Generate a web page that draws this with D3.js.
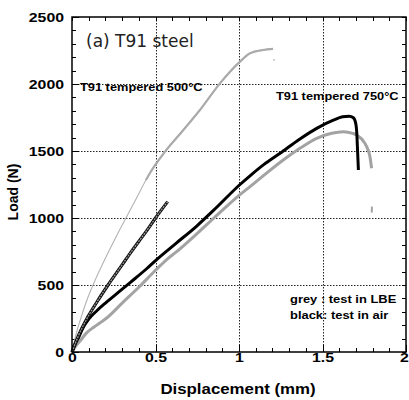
<!DOCTYPE html>
<html lang="en">
<head>
    <meta charset="UTF-8">
    <title>T91 steel load-displacement</title>
    <script src="https://d3js.org/d3.v7.min.js"></script>
    <style>
        body { margin: 0; background: #fff; }
        svg text { font-family: "Liberation Sans", Arial, sans-serif; font-weight: bold; fill: #000; }
        .ax path { display: none; }
        .ax line { stroke: #000; stroke-width: 1; shape-rendering: crispEdges; }
    </style>
</head>
<body>
    <svg id="chart"></svg>
    <script>
        // curves (displacement in mm, load in N)
        const dispGrey500 = [0, 0.026, 0.056, 0.09, 0.126, 0.2, 0.285, 0.366, 0.443, 0.467, 0.557, 0.667, 0.766, 0.886, 1.006, 1.066, 1.144, 1.204];
        const loadGrey500 = [0, 140, 264, 390, 500, 700, 911, 1100, 1284, 1336, 1495, 1657, 1806, 2005, 2167, 2229, 2254, 2262];

        const dispBlack500 = [0, 0.036, 0.096, 0.15, 0.216, 0.3, 0.35, 0.4, 0.45, 0.5, 0.573];
        const loadBlack500 = [0, 114, 264, 375, 500, 650, 740, 825, 910, 1000, 1122];

        const dispBlack750 = [0, 0.02, 0.04, 0.07, 0.1, 0.15, 0.2, 0.263, 0.35, 0.45, 0.507, 0.623, 0.747, 0.85, 1.006, 1.066, 1.15, 1.246, 1.365, 1.465, 1.565, 1.62, 1.66, 1.685, 1.7, 1.705, 1.71, 1.715];
        const loadBlack750 = [0, 60, 110, 190, 245, 310, 365, 430, 520, 625, 690, 811, 940, 1060, 1250, 1315, 1400, 1483, 1590, 1669, 1730, 1755, 1760, 1748, 1700, 1640, 1500, 1358];

        const dispGrey750 = [0, 0.02, 0.05, 0.084, 0.13, 0.176, 0.204, 0.3, 0.403, 0.5, 0.567, 0.623, 0.75, 0.85, 1.006, 1.066, 1.15, 1.265, 1.365, 1.465, 1.55, 1.625, 1.68, 1.705, 1.754, 1.775, 1.784, 1.794];
        const loadGrey750 = [0, 40, 85, 139, 185, 225, 250, 365, 487, 610, 690, 745, 885, 1000, 1175, 1234, 1320, 1433, 1520, 1595, 1630, 1644, 1632, 1619, 1557, 1500, 1458, 1371];

        const dispGreyBit = [1.795, 1.796];
        const loadGreyBit = [1040, 1085];

        const xTicks = [0, 0.5, 1, 1.5, 2];
        const yTicks = [0, 500, 1000, 1500, 2000, 2500];

        const width = 409, height = 400;
        const mLeft = 72, mRight = 406, mTop = 17, mBottom = 352;
        const sx = 1.22; // text in the picture is stretched sideways

        const svg = d3.select('#chart').attr('width', width).attr('height', height);

        const x = d3.scaleLinear().domain([0, 2]).range([mLeft, mRight]);
        const y = d3.scaleLinear().domain([0, 2500]).range([mBottom, mTop]);

        const pts = (xs, ys) => xs.map((d, i) => [d, ys[i]]);
        const line = d3.line().x(d => x(d[0])).y(d => y(d[1])).curve(d3.curveMonotoneX);

        // dotted grid, snapped to pixel centres
        const grid = svg.append('g');
        xTicks.slice(1, -1).forEach(v => {
            const px = Math.round(x(v)) + 0.5;
            grid.append('line').attr('x1', px).attr('x2', px).attr('y1', mTop).attr('y2', mBottom)
                .attr('stroke', '#222').attr('stroke-width', 1).attr('stroke-dasharray', '1.5 1.5');
        });
        yTicks.slice(1, -1).forEach(v => {
            const py = Math.round(y(v)) + 0.5;
            grid.append('line').attr('y1', py).attr('y2', py).attr('x1', mLeft).attr('x2', mRight)
                .attr('stroke', '#222').attr('stroke-width', 1).attr('stroke-dasharray', '1.5 1.5');
        });

        // minor + major ticks on all four sides, pointing inward
        const minorX = d3.range(0, 2.0001, 0.1);
        const minorY = d3.range(0, 2501, 100);
        const addAxis = (gen, tr) => svg.append('g').attr('class', 'ax').attr('transform', tr).call(gen);
        addAxis(d3.axisBottom(x).tickValues(minorX).tickSize(-4).tickFormat(''), `translate(0,${mBottom})`);
        addAxis(d3.axisTop(x).tickValues(minorX).tickSize(-4).tickFormat(''), `translate(0,${mTop})`);
        addAxis(d3.axisLeft(y).tickValues(minorY).tickSize(-4).tickFormat(''), `translate(${mLeft},0)`);
        addAxis(d3.axisRight(y).tickValues(minorY).tickSize(-4).tickFormat(''), `translate(${mRight},0)`);

        const xAx = addAxis(d3.axisBottom(x).tickValues(xTicks).tickSize(-7).tickPadding(1).tickFormat(d3.format('')), `translate(0,${mBottom})`);
        const yAx = addAxis(d3.axisLeft(y).tickValues(yTicks).tickSize(-7).tickPadding(6.5).tickFormat(d3.format('')), `translate(${mLeft},0)`);
        xAx.selectAll('text').style('font-size', '13px')
            .attr('transform', d => d === 2 ? `translate(-2,0) scale(${sx},1)` : `scale(${sx},1)`);
        yAx.selectAll('text').style('font-size', '13px').attr('transform', `scale(${sx},1)`);

        // curves
        const plot = svg.append('g');
        const grey500 = pts(dispGrey500, loadGrey500);
        plot.append('path').attr('d', line(grey500)).attr('fill', 'none')
            .attr('stroke', '#b3b3b3').attr('stroke-width', 1.1);
        plot.append('path').attr('d', line(grey500.filter(d => d[0] >= 0.443))).attr('fill', 'none')
            .attr('stroke', '#aaaaaa').attr('stroke-width', 2.2);
        plot.append('circle').attr('cx', x(1.21)).attr('cy', y(2180)).attr('r', 0.8).attr('fill', '#aaa');

        plot.append('path').attr('d', line(pts(dispGrey750, loadGrey750))).attr('fill', 'none')
            .attr('stroke', '#a3a3a3').attr('stroke-width', 3);
        plot.append('path').attr('d', d3.line().x(d => x(d[0])).y(d => y(d[1]))(pts(dispGreyBit, loadGreyBit)))
            .attr('fill', 'none').attr('stroke', '#a3a3a3').attr('stroke-width', 2);

        plot.append('path').attr('d', line(pts(dispBlack750, loadBlack750))).attr('fill', 'none')
            .attr('stroke', '#000').attr('stroke-width', 3);

        const black500 = pts(dispBlack500, loadBlack500);
        plot.append('path').attr('d', line(black500)).attr('fill', 'none')
            .attr('stroke', '#111').attr('stroke-width', 3.2);
        plot.append('path').attr('d', line(black500)).attr('fill', 'none')
            .attr('stroke', '#999').attr('stroke-width', 1.3).attr('stroke-dasharray', '2,1');

        // frame
        svg.append('rect').attr('x', mLeft).attr('y', mTop).attr('width', mRight - mLeft).attr('height', mBottom - mTop)
            .attr('fill', 'none').attr('stroke', '#000').attr('stroke-width', 1.5);

        // labels
        const label = (txt, px, py, size, anchor) => svg.append('text')
            .attr('transform', `translate(${px},${py}) scale(${sx},1)`)
            .attr('text-anchor', anchor || 'start').style('font-size', size + 'px').text(txt);

        svg.append('text').attr('x', 86).attr('y', 47)
            .style('font-family', '"DejaVu Sans", sans-serif').style('font-weight', 'normal')
            .style('font-size', '17px').style('fill', '#222').text('(a) T91 steel');
        label('T91 tempered 500°C', 80, 91, 10.5);
        label('T91 tempered 750°C', 276, 100, 10.5);
        label('grey : test in LBE', 290, 303, 10.6);
        label('black: test in air', 290, 318.5, 10.6);

        label('Displacement (mm)', 238, 394, 13.8, 'middle');
        svg.append('text').attr('transform', 'translate(17.5,192) rotate(-90)')
            .attr('text-anchor', 'middle').style('font-size', '14px').text('Load (N)');
    </script>
</body>
</html>
